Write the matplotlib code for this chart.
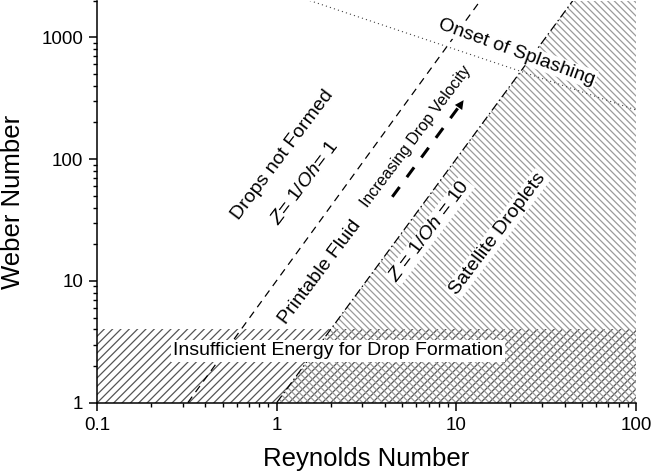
import numpy as np
import matplotlib
matplotlib.use("Agg")
import matplotlib.pyplot as plt
from matplotlib.ticker import FuncFormatter, LogLocator

plt.rcParams['font.family'] = ['Liberation Sans', 'DejaVu Sans']
plt.rcParams['mathtext.fontset'] = 'custom'
plt.rcParams['mathtext.rm'] = 'Liberation Sans'
plt.rcParams['mathtext.it'] = 'Liberation Sans:italic'
plt.rcParams['hatch.linewidth'] = 0.9

# axis range
re_lim = [0.1, 100]
we_lim = [1, 2000]

# Z = 1/Oh = 1 line (dashed), end points
z1_re = [0.32, 13.6]
z1_we = [1, 2000]

# Z = 1/Oh = 10 line (dash-dot)
z10_re = [1.0, 44.5]
z10_we = [1, 2000]

# onset of splashing (dotted)
splash_re = [1.53, 100]
splash_we = [2000, 253]

# insufficient energy band
band_we = [1, 4]

# arrow "increasing drop velocity"
arrow_re = [4.4, 11.2]
arrow_we = [49, 318]

fig = plt.figure(figsize=(6.52, 4.75), dpi=100)
ax = fig.add_axes([0.1488, 0.1522, 0.8267, 0.8465])
ax.set_xscale('log')
ax.set_yscale('log')
ax.set_xlim(re_lim)
ax.set_ylim(we_lim)

# bottom band, single hatch
ax.fill_between(re_lim, band_we[0], band_we[1], facecolor='none',
                edgecolor='#555555', linewidth=0, hatch='////', zorder=1)
# satellite droplet region, right of Z=10
ax.fill_betweenx(z10_we, z10_re, re_lim[1], facecolor='none',
                 edgecolor='#9a9a9a', linewidth=0, hatch='\\\\\\\\\\', zorder=1)

ax.plot(z1_re, z1_we, color='k', lw=0.9, dashes=(6, 4.5), zorder=3)
ax.plot(z10_re, z10_we, color='k', lw=0.9, dashes=(7, 2.5, 1.2, 2.5), zorder=3)
ax.plot(splash_re, splash_we, color='#444444', lw=0.8, dashes=(1, 2.8), zorder=3)

# dashed arrow
ax.plot(arrow_re[:1] + [arrow_re[1] * 0.93], arrow_we[:1] + [arrow_we[1] * 0.86],
        color='k', lw=2.2, dashes=(4, 4), zorder=3)
ax.annotate('', xy=(arrow_re[1], arrow_we[1]),
            xytext=(arrow_re[1] * 0.9, arrow_we[1] * 0.8),
            arrowprops=dict(arrowstyle='-|>', color='k', lw=0, mutation_scale=16),
            zorder=4)

ang = 53
ax.text(1.08, 108, 'Drops not Formed', rotation=ang, fontsize=14,
        ha='center', va='center', rotation_mode='anchor')
ax.text(1.44, 63, r'$Z$= 1/$Oh$= 1', rotation=ang, fontsize=14,
        ha='center', va='center', rotation_mode='anchor')
ax.text(1.74, 11.8, 'Printable Fluid', rotation=ang, fontsize=14,
        ha='center', va='center', rotation_mode='anchor')
ax.text(5.96, 152, 'Increasing Drop Velocity', rotation=ang, fontsize=11.5,
        ha='center', va='center', rotation_mode='anchor')
box = dict(facecolor='white', edgecolor='none', pad=0.8)
ax.text(7.13, 25.7, r'$Z$ = 1/$Oh$ = 10', rotation=ang, fontsize=14,
        ha='center', va='center', rotation_mode='anchor', bbox=box, zorder=5)
ax.text(17.0, 24.3, 'Satellite Droplets', rotation=ang, fontsize=14,
        ha='center', va='center', rotation_mode='anchor', bbox=box, zorder=5)
ax.text(21.7, 757, 'Onset of Splashing', rotation=-20, fontsize=14,
        ha='center', va='center', rotation_mode='anchor', bbox=box, zorder=5)
ax.text(2.19, 2.66, 'Insufficient Energy for Drop Formation', fontsize=14,
        ha='center', va='center',
        bbox=dict(facecolor='white', edgecolor='none', pad=1.5), zorder=5)

for s in ['top', 'right']:
    ax.spines[s].set_visible(False)
for s in ['left', 'bottom']:
    ax.spines[s].set_linewidth(1.1)

fmt = FuncFormatter(lambda v, p: f'{v:g}')
ax.xaxis.set_major_formatter(fmt)
ax.yaxis.set_major_formatter(fmt)
ax.xaxis.set_major_locator(LogLocator(base=10, numticks=10))
ax.yaxis.set_major_locator(LogLocator(base=10, numticks=10))
ax.tick_params(which='major', direction='out', length=6, width=1.1, labelsize=13.5, pad=4)
ax.tick_params(which='minor', direction='out', length=3, width=1.0)

ax.set_xlabel('Reynolds Number', fontsize=18.5, labelpad=10)
ax.set_ylabel('Weber Number', fontsize=18.5, labelpad=12)

fig.savefig('out.png', dpi=100)
